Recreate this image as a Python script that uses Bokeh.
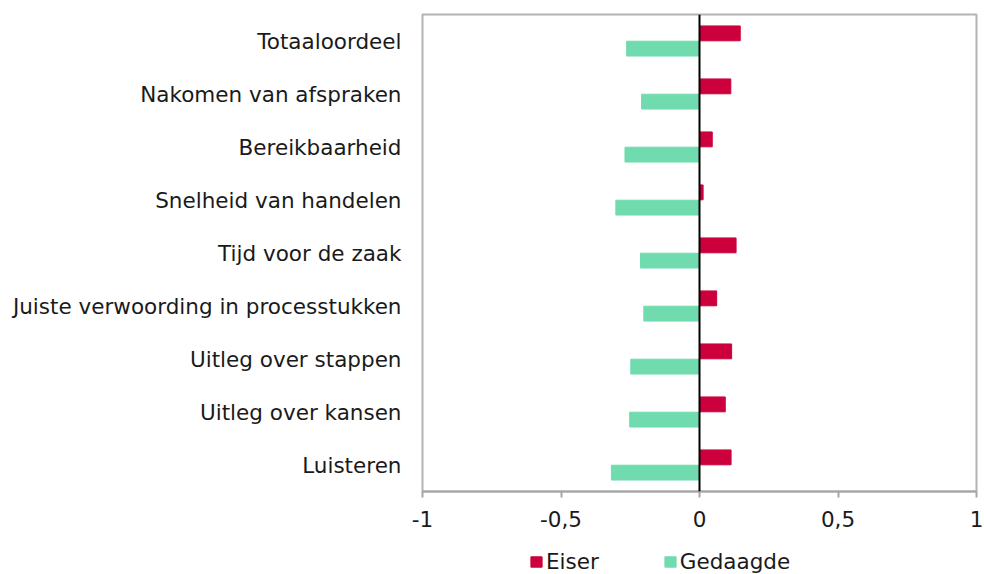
from bokeh.plotting import figure
from bokeh.models import ColumnDataSource, FixedTicker, Span, Legend, LegendItem
from bokeh.layouts import column
from bokeh.transform import dodge
from bokeh.embed import file_html
from bokeh.resources import INLINE

# categories, listed top to bottom as in the chart
categories = [
    "Totaaloordeel",
    "Nakomen van afspraken",
    "Bereikbaarheid",
    "Snelheid van handelen",
    "Tijd voor de zaak",
    "Juiste verwoording in processtukken",
    "Uitleg over stappen",
    "Uitleg over kansen",
    "Luisteren",
]
eiser = [0.147, 0.113, 0.046, 0.013, 0.132, 0.062, 0.116, 0.093, 0.114]
gedaagde = [-0.263, -0.209, -0.269, -0.302, -0.213, -0.201, -0.248, -0.252, -0.318]
series_names = ["Eiser", "Gedaagde"]
x_ticks = [-1, -0.5, 0, 0.5, 1]
x_tick_labels = ["-1", "-0,5", "0", "0,5", "1"]

RED = "#cc003d"
GREEN = "#70dbaf"
FONT = "DejaVu Sans"
FS = "21.5px"

src = ColumnDataSource(dict(cat=categories, eiser=eiser, gedaagde=gedaagde,
                            zero=[0] * len(categories)))

p = figure(frame_width=554, frame_height=477, output_backend="svg", toolbar_location=None,
           y_range=list(reversed(categories)), x_range=(-1, 1),
           min_border_left=422, min_border_right=8, min_border_top=14,
           min_border_bottom=49)

r1 = p.hbar(y=dodge("cat", 0.144, range=p.y_range), left="zero", right="eiser",
            height=0.28, source=src, fill_color=RED, line_color=RED)
r2 = p.hbar(y=dodge("cat", -0.144, range=p.y_range), left="zero", right="gedaagde",
            height=0.28, source=src, fill_color=GREEN, line_color=GREEN)

p.add_layout(Span(location=0, dimension="height", line_color="black", line_width=2))

p.xgrid.visible = False
p.ygrid.visible = False
p.outline_line_color = "#b3b3b3"
p.outline_line_width = 2
p.background_fill_color = "white"
p.border_fill_color = "white"

xa = p.xaxis[0]
xa.ticker = FixedTicker(ticks=x_ticks)
xa.major_label_overrides = {float(t): l for t, l in zip(x_ticks, x_tick_labels)}
xa.axis_line_color = "#a6a6a6"
xa.axis_line_width = 2
xa.major_tick_line_color = "#a6a6a6"
xa.major_tick_line_width = 2
xa.major_tick_in = 0
xa.major_tick_out = 6
xa.minor_tick_line_color = None
xa.major_label_standoff = 13
xa.major_label_text_font = FONT
xa.major_label_text_font_size = FS
xa.major_label_text_color = "#1a1a1a"

ya = p.yaxis[0]
ya.axis_line_color = None
ya.major_tick_line_color = None
ya.minor_tick_line_color = None
ya.major_label_standoff = 15
ya.major_label_text_font = FONT
ya.major_label_text_font_size = FS
ya.major_label_text_color = "#1a1a1a"

# separate strip holding the legend, below the chart (its frame aligns with the chart's)
leg = figure(width=984, height=34, output_backend="svg", toolbar_location=None,
             x_range=(0, 1), y_range=(0, 1), x_axis_location=None, y_axis_location=None,
             min_border=0)
leg.outline_line_color = None
leg.xgrid.visible = False
leg.ygrid.visible = False
# legend-swatch placeholders: one bar each, parked outside the strip's visible range
swatch = ColumnDataSource(dict(y=[-10], left=[0], right=[0.1]))
s1 = leg.hbar(y="y", left="left", right="right", height=0.5, source=swatch,
              fill_color=RED, line_color=RED)
s2 = leg.hbar(y="y", left="left", right="right", height=0.5, source=swatch,
              fill_color=GREEN, line_color=GREEN)
legend = Legend(items=[LegendItem(label=series_names[0], renderers=[s1]),
                       LegendItem(label=series_names[1], renderers=[s2])],
                orientation="horizontal", location=(107, 0),
                label_text_font=FONT, label_text_font_size=FS,
                label_text_color="#1a1a1a",
                glyph_width=14, glyph_height=13, spacing=64, padding=0,
                margin=0, label_standoff=3, border_line_color=None,
                background_fill_alpha=0)
leg.add_layout(legend, "center")

layout = column(p, leg, spacing=0)
open("out.html", "w").write(file_html(layout, INLINE))
